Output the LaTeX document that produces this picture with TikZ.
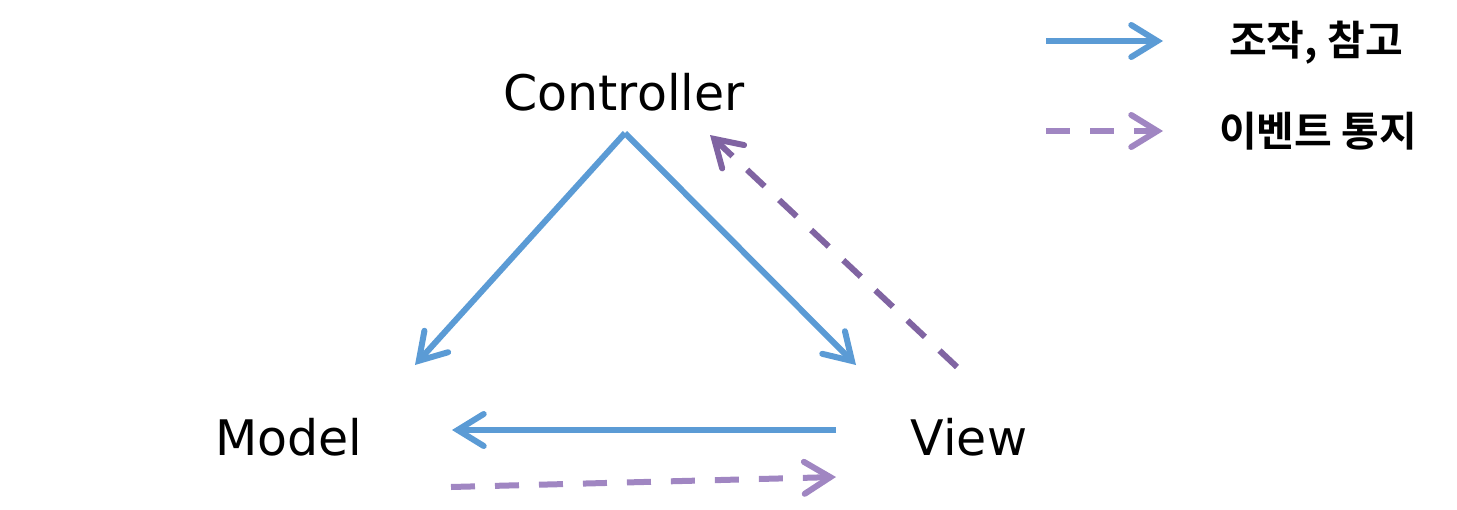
\documentclass[tikz,border=0pt]{standalone}
\usepackage{fontspec}
\setmainfont{DejaVu Sans}
\newfontfamily\kofont{Noto Sans CJK KR}[BoldFont={* Bold}]
\usetikzlibrary{arrows.meta}
\definecolor{refblue}{HTML}{5B9BD5}
\definecolor{evlight}{HTML}{A086C2}
\definecolor{evdark}{HTML}{8064A2}
\tikzset{
  lbl/.style={font=\fontsize{24.5}{28}\selectfont, inner sep=0pt, anchor=center},
  kolbl/.style={font=\kofont\bfseries\fontsize{20.5}{24}\selectfont, inner sep=0pt, anchor=center},
  tip/.style={-{Straight Barb[length=13pt,width=16pt,line width=3pt,line cap=round]}},
  opref/.style={tip, draw=refblue, line width=3pt},
  evnote/.style={tip, line width=3pt, dash pattern=on 12pt off 10pt}
}
\begin{document}
\begin{tikzpicture}[x=0.5pt,y=-0.5pt]
\useasboundingbox (0,0) rectangle (1457,509);
% labels
\node[lbl] (ctrl) at (624,92) {Controller};
\node[lbl] (model) at (289,437) {Model};
\node[lbl] (view) at (969,437) {View};
% connector ends
\coordinate (apex) at (625,133);
\coordinate (mTop) at (415,365);
\coordinate (vTop) at (856,365);
\coordinate (vLeft) at (836,430);
\coordinate (mRight) at (452,430);
\coordinate (mLow) at (451,487);
\coordinate (vLow) at (836,477);
\coordinate (vUp) at (957,367);
\coordinate (cRight) at (710,135);
% operation / reference
\draw[opref] (apex) -- (mTop);
\draw[opref] (apex) -- (vTop);
\draw[opref] (vLeft) -- (mRight);
% event notification
\draw[evnote, draw=evlight] (mLow) -- (vLow);
\draw[evnote, draw=evdark] (vUp) -- (cRight);
% legend
\coordinate (l1a) at (1046,41);
\coordinate (l1b) at (1163,41);
\coordinate (l2a) at (1046,131);
\coordinate (l2b) at (1163,131);
\draw[opref] (l1a) -- (l1b);
\draw[evnote, draw=evlight] (l2a) -- (l2b);
\node[kolbl] (leg1) at (1316,43) {조작, 참고};
\node[kolbl] (leg2) at (1318,131) {이벤트 통지};
\end{tikzpicture}
\end{document}
